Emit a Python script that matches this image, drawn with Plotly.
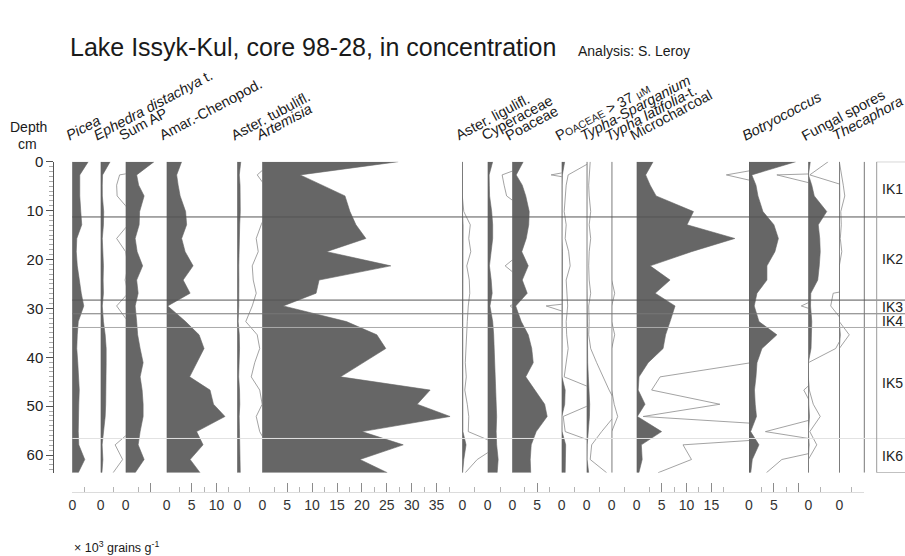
import plotly.graph_objects as go

# ---------------------------------------------------------------- data
# sample depths (cm)
depth = [0, 2.7, 4.8, 7.0, 10.2, 12.9, 15.7, 18.4, 21.3, 24.2, 26.9, 29.5,
         32.7, 35.4, 38.2, 41.1, 44.0, 46.7, 49.6, 52.1, 55.2, 57.9, 60.9, 63.6]

# concentrations, x 10^3 grains per gram
picea = [3.2, 1.5, 1.5, 1.5, 1.7, 1.9, 0.9, 0.8, 1.0, 1.4, 1.8, 2.3,
         1.2, 1.0, 0.9, 1.1, 1.3, 1.4, 1.3, 1.2, 1.2, 1.3, 2.5, 1.2]
ephedra = [1.9, 0.38, 0.32, 0.33, 0.6, 0.55, 0.32, 0.5, 0.55, 0.49, 0.55, 0.32,
           0.55, 0.9, 1.1, 1.1, 1.1, 1.1, 1.0, 0.9, 0.6, 0.29, 0.44, 0.25]
sum_ap = [5.7, 2.2, 2.6, 3.7, 2.8, 2.7, 1.9, 2.3, 3.4, 2.2, 2.5, 1.9,
          2.2, 2.4, 2.9, 3.5, 2.9, 3.3, 3.5, 3.5, 2.9, 2.5, 3.7, 1.9]
amar_chenopod = [3.0, 2.0, 2.3, 2.7, 3.8, 4.0, 3.0, 3.7, 5.3, 3.3, 4.7, 0.2,
                 3.8, 6.5, 7.5, 6.0, 4.6, 8.7, 9.4, 11.7, 6.0, 7.3, 4.7, 6.7]
aster_tubuliflorae = [0.7, 0.40, 0.55, 0.6, 0.6, 0.48, 0.38, 0.42, 0.30, 0.32, 0.38, 0.30,
                      0.17, 0.40, 0.45, 0.35, 0.28, 0.45, 0.5, 0.38, 0.45, 0.6, 0.6, 0.6]
artemisia = [27.3, 7.6, 12.0, 16.6, 17.6, 18.8, 20.8, 12.9, 25.8, 11.4, 10.8, 4.2,
             16.9, 23.0, 24.8, 20.2, 15.7, 33.7, 31.1, 37.7, 20.0, 28.3, 19.6, 25.1]
aster_liguliflorae = [0, 0, 0, 0, 0.03, 0.16, 0.13, 0.17, 0.09, 0.14, 0.15, 0.12,
                      0.10, 0.09, 0.07, 0.06, 0.08, 0.05, 0.10, 0.13, 0.12, 0.75, 0.30, 0.06]
cyperaceae = [1.0, 0.29, 0.33, 0.38, 0.8, 1.0, 1.0, 0.7, 0.35, 0.7, 0.9, 0.45,
              1.0, 1.2, 1.3, 1.5, 1.6, 1.7, 1.8, 1.8, 1.7, 1.8, 2.1, 1.9]
poaceae = [2.2, 0.78, 2.0, 2.7, 3.4, 3.3, 2.8, 1.9, 3.2, 2.0, 3.0, 0.68,
           1.8, 3.2, 3.9, 4.2, 2.7, 4.5, 6.5, 7.0, 4.8, 3.8, 3.6, 3.7]
poaceae_gt37 = [0.6, 0.13, 0.09, 0.07, 0.05, 0.09, 0.07, 0.14, 0.17, 0.09, 0.10, 0.12,
                0.09, 0.10, 0.13, 0.09, 0.05, 0.7, 0.6, 0.03, 0.07, 0.8, 0.8, 0.7]
typha_sparganium = [0.07, 0.05, 0.04, 0.05, 0.08, 0.05, 0.08, 0.05, 0.04, 0.05, 0.08, 0.04,
                    0.05, 0.04, 0.08, 0.2, 0.33, 0.45, 0.6, 0.55, 0.3, 0.1, 0.07, 0.4]
typha_latifolia = [0, 0, 0, 0, 0, 0, 0, 0, 0, 0, 0.06, 0,
                   0, 0.06, 0, 0, 0, 0, 0.05, 0.12, 0, 0, 0, 0]
microcharcoal = [3.3, 1.8, 2.7, 3.9, 11.4, 10.1, 19.7, 11.0, 2.7, 6.7, 3.7, 7.7,
                 6.7, 5.8, 5.3, 2.3, 0.47, 0.3, 1.67, 0.13, 5.0, 0.93, 1.1, 0.43]
botryococcus = [9.4, 0.56, 1.4, 1.8, 2.8, 5.0, 5.9, 5.2, 3.6, 3.6, 1.6, 1.05,
                2.0, 5.6, 2.6, 1.6, 1.4, 1.1, 1.25, 1.5, 0.33, 2.0, 0.66, 0.35]
fungal_spores = [0.4, 0.03, 0.7, 1.2, 3.7, 2.0, 2.3, 2.4, 2.2, 1.9, 0.5, 0.45,
                 0.7, 0.7, 0.55, 0.0, 0.0, 0.02, 0.1, 0.24, 0.03, 0.17, 0.0, 0.0]
thecaphora = [0.0, 0.05, 0.08, 0.11, 0.03, 0.04, 0.02, 0.05, 0.0, 0.0, 0.0, 0.0,
              0.0, 0.2, 0.0, 0.0, 0.0, 0.0, 0.0, 0.0, 0.0, 0.0, 0.0, 0.0]

# pollen assemblage zones: lower boundaries (cm) and names
zone_bounds = [11.3, 28.3, 31.1, 33.9, 56.6]
zone_names = ["IK1", "IK2", "IK3", "IK4", "IK5", "IK6"]

EXAGGERATION = 10  # hollow curves: x10 exaggeration

# ---------------------------------------------------------------- layout constants
W, H = 905, 556
PLOT_BOTTOM = 492          # px, baseline of the scale bars
Y_TOP_PX, Y_BOT_PX = 161.7, 472.7
PX_PER_UNIT = 4.98
DEPTH_MAX = depth[-1]
FILL = "#666666"
FONT = "Liberation Sans, Arial, sans-serif"


def fx(px):
    return px / W


def fy(py):
    return (PLOT_BOTTOM - py) / PLOT_BOTTOM


SMALL = "font-size:10.5px"
panels = [
    dict(vals=picea, base=72.3, right=100.7, major=[0], minor=[2.5],
         label="<i>Picea</i>", exag=False),
    dict(vals=ephedra, base=100.7, right=125.7, major=[0], minor=[2.5],
         label="<i>Ephedra distachya</i> t.", exag=True),
    dict(vals=sum_ap, base=125.7, right=166.7, major=[0, 5], minor=[2.5],
         label="Sum AP", exag=False, hide=[5]),
    dict(vals=amar_chenopod, base=166.7, right=237.3, major=[0, 5, 10], minor=[2.5, 7.5, 12.5],
         label="Amar.-Chenopod.", exag=False),
    dict(vals=aster_tubuliflorae, base=237.3, right=262.3, major=[0], minor=[2.5],
         label="Aster. tubulifl.", exag=True),
    dict(vals=artemisia, base=262.3, right=462.3, major=[0, 5, 10, 15, 20, 25, 30, 35],
         minor=[2.5, 7.5, 12.5, 17.5, 22.5, 27.5, 32.5, 37.5],
         label="<i>Artemisia</i>", exag=True),
    dict(vals=aster_liguliflorae, base=462.3, right=487.7, major=[0], minor=[2.5],
         label="Aster. liguli<i></i>fl.", exag=True),
    dict(vals=cyperaceae, base=487.7, right=512.3, major=[0], minor=[2.5],
         label="Cyperaceae", exag=True),
    dict(vals=poaceae, base=512.3, right=561.7, major=[0, 5], minor=[2.5, 7.5],
         label="Poaceae", exag=True),
    dict(vals=poaceae_gt37, base=561.7, right=586.7, major=[0], minor=[2.5],
         label=f"P<span style='{SMALL}'>OACEAE</span> > 37 <span style='{SMALL}'>µM</span>",
         exag=True),
    dict(vals=typha_sparganium, base=586.7, right=611.7, major=[0], minor=[2.5],
         label="<i>Typha-Sparganium</i>", exag=True),
    dict(vals=typha_latifolia, base=611.7, right=636.7, major=[0], minor=[2.5],
         label="<i>Typha latifolia</i>-t.", exag=True),
    dict(vals=microcharcoal, base=636.7, right=749.0, major=[0, 5, 10, 15],
         minor=[2.5, 7.5, 12.5, 17.5], label="Microcharcoal", exag=True),
    dict(vals=botryococcus, base=749.0, right=808.3, major=[0, 5, 10], minor=[2.5, 7.5],
         label="<i>Botryococcus</i>", exag=True, hide=[10]),
    dict(vals=fungal_spores, base=808.3, right=839.3, major=[0], minor=[2.5],
         label="Fungal spores", exag=True),
    dict(vals=thecaphora, base=839.3, right=864.3, major=[0], minor=[2.5],
         label="<i>Thecaphora</i>", exag=True),
]

fig = go.Figure()
axes = {}
shapes = []
annotations = []

for i, p in enumerate(panels, start=1):
    xa = "x" if i == 1 else f"x{i}"
    key = "xaxis" if i == 1 else f"xaxis{i}"
    span = (p["right"] - p["base"]) / PX_PER_UNIT
    hide = p.get("hide", [])
    axes[key] = dict(
        domain=[fx(p["base"]), fx(p["right"])], range=[0, span],
        anchor="free", position=0, showgrid=False, zeroline=False,
        showline=True, linecolor="#dcdcdc", linewidth=1,
        ticks="inside", ticklen=9, tickwidth=1, tickcolor="#8c8c8c",
        tickvals=p["major"],
        ticktext=["" if v in hide else f"{v:g}" for v in p["major"]],
        tickfont=dict(family=FONT, size=14, color="#333333"),
        minor=dict(tickvals=p["minor"], ticks="inside", ticklen=5, tickcolor="#b4b4b4"),
        fixedrange=True, automargin=False,
    )
    if p["exag"]:
        fig.add_trace(go.Scatter(
            x=[v * EXAGGERATION for v in p["vals"]], y=depth, xaxis=xa, yaxis="y",
            mode="lines", line=dict(color="#8c8c8c", width=0.8),
            hoverinfo="skip", showlegend=False))
    fig.add_trace(go.Scatter(
        x=p["vals"], y=depth, xaxis=xa, yaxis="y", mode="lines",
        fill="tozerox", fillcolor=FILL, line=dict(color=FILL, width=0.6),
        showlegend=False))
    # panel baseline
    shapes.append(dict(type="line", xref=xa, yref="y", x0=0, x1=0, y0=0, y1=DEPTH_MAX,
                       line=dict(color="#5a5a5a", width=1)))
    # rotated taxon name
    annotations.append(dict(
        text=p["label"], xref="paper", yref="paper",
        x=fx(p["base"] - 12), y=fy(146), xanchor="left", yanchor="bottom",
        textangle=-28, showarrow=False,
        font=dict(family=FONT, size=14.5, color="#1a1a1a")))

# separator right of the last curve
shapes.append(dict(type="line", xref="paper", yref="y", x0=fx(864.3), x1=fx(864.3),
                   y0=0, y1=DEPTH_MAX, line=dict(color="#777777", width=1)))

# zone boundaries
zone_colors = ["#555555", "#555555", "#777777", "#aaaaaa", "#e2e2e2"]
for z, c in zip(zone_bounds, zone_colors):
    shapes.append(dict(type="line", xref="paper", yref="y", x0=fx(72.3), x1=1.01,
                       y0=z, y1=z, line=dict(color=c, width=1)))
# zone box and names
shapes.append(dict(type="rect", xref="paper", yref="y", x0=fx(876.7), x1=1.01,
                   y0=0, y1=DEPTH_MAX, line=dict(color="#9a9a9a", width=1)))
edges = [0] + zone_bounds + [DEPTH_MAX]
for name, top, bot in zip(zone_names, edges[:-1], edges[1:]):
    annotations.append(dict(text=name, xref="paper", yref="y", x=fx(880), y=(top + bot) / 2,
                            xanchor="left", yanchor="middle", showarrow=False,
                            font=dict(family=FONT, size=14, color="#222222")))

# titles and captions
annotations += [
    dict(text="Lake Issyk-Kul, core 98-28, in concentration", xref="paper", yref="paper",
         x=fx(68), y=fy(47), xanchor="left", yanchor="middle", showarrow=False,
         font=dict(family=FONT, size=25, color="#1a1a1a")),
    dict(text="Analysis: S. Leroy", xref="paper", yref="paper",
         x=fx(576), y=fy(51), xanchor="left", yanchor="middle", showarrow=False,
         font=dict(family=FONT, size=14, color="#1a1a1a")),
    dict(text="Depth", xref="paper", yref="paper", x=fx(28), y=fy(127),
         xanchor="center", yanchor="middle", showarrow=False,
         font=dict(family=FONT, size=14, color="#1a1a1a")),
    dict(text="cm", xref="paper", yref="paper", x=fx(27), y=fy(144),
         xanchor="center", yanchor="middle", showarrow=False,
         font=dict(family=FONT, size=14, color="#1a1a1a")),
    dict(text="× 10<sup>3</sup> grains g<sup>-1</sup>", xref="paper", yref="paper",
         x=fx(72), y=fy(547), xanchor="left", yanchor="middle", showarrow=False,
         font=dict(family=FONT, size=12.5, color="#1a1a1a")),
]

fig.update_layout(
    width=W, height=H,
    margin=dict(l=0, r=0, t=0, b=H - PLOT_BOTTOM, pad=0),
    paper_bgcolor="white", plot_bgcolor="rgba(0,0,0,0)",
    showlegend=False,
    yaxis=dict(
        domain=[fy(Y_BOT_PX), fy(Y_TOP_PX)], range=[DEPTH_MAX, 0],
        anchor="free", position=fx(53.3), side="left",
        showline=True, linecolor="#555555", linewidth=1,
        showgrid=False, zeroline=False,
        ticks="outside", ticklen=7, tickcolor="#555555",
        tickvals=[0, 10, 20, 30, 40, 50, 60],
        tickfont=dict(family=FONT, size=15, color="#222222"),
        minor=dict(dtick=1, ticks="outside", ticklen=4, tickcolor="#aaaaaa"),
        fixedrange=True, automargin=False,
    ),
    shapes=shapes,
    annotations=annotations,
    **axes,
)

fig.write_html("out.html")
